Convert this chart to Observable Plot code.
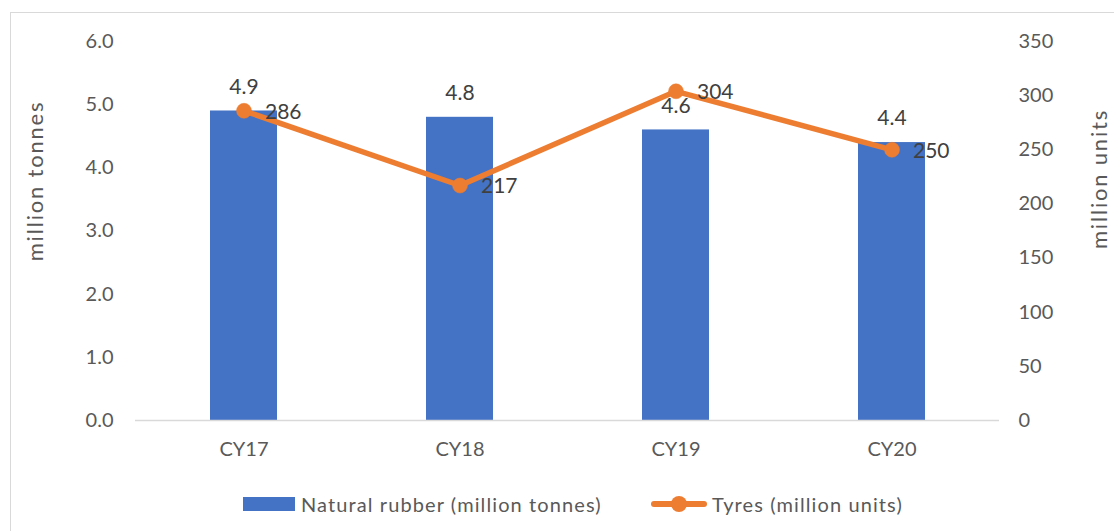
<!DOCTYPE html>
<html>
<head>
<meta charset="utf-8">
<script src="https://cdn.jsdelivr.net/npm/d3@7"></script>
<script src="https://cdn.jsdelivr.net/npm/@observablehq/plot@0.6"></script>
<style>
  body { margin: 0; background: #fff; font-family: Lato, "Open Sans", sans-serif; }
  #wrap { position: relative; width: 1114px; height: 531px; overflow: hidden; background: #fff; }
  #frame { position: absolute; left: 10px; top: 12px; width: 1130px; height: 560px; border: 1px solid #d9d9d9; box-sizing: border-box; }
  #chart { position: absolute; left: 0; top: 0; }
  .lg { position: absolute; font-size: 20px; letter-spacing: 1.1px; color: #595959; line-height: 24px; white-space: nowrap; }
  .sw-bar { position: absolute; left: 243px; top: 497px; width: 52px; height: 14px; background: #4472C4; }
  .sw-line { position: absolute; left: 651px; top: 501px; width: 56px; height: 6px; background: #ED7D31; border-radius: 3px; }
  .sw-dot { position: absolute; left: 671px; top: 496px; width: 16px; height: 16px; border-radius: 50%; background: #ED7D31; }
</style>
</head>
<body>
<div id="wrap">
  <div id="frame"></div>
  <div id="chart"></div>
  <div class="sw-bar"></div>
  <div class="lg" style="left:301px; top:492px;">Natural rubber (million tonnes)</div>
  <div class="sw-line"></div>
  <div class="sw-dot"></div>
  <div class="lg" style="left:712px; top:492px;">Tyres (million units)</div>
</div>
<script>
const categories = ["CY17", "CY18", "CY19", "CY20"];
const rubber = [4.9, 4.8, 4.6, 4.4];
const tyres = [286, 217, 304, 250];
const leftTicks = [0, 1, 2, 3, 4, 5, 6];
const rightTicks = [0, 50, 100, 150, 200, 250, 300, 350];
const leftTitle = "million tonnes";
const rightTitle = "million units";

const leftMax = 6, rightMax = 350;
const toLeft = v => v * leftMax / rightMax;
const data = categories.map((c, i) => ({cat: c, rubber: rubber[i], tyres: tyres[i]}));

const blue = "#4472C4", orange = "#ED7D31", tickColor = "#595959", labelColor = "#404040";

const chart = Plot.plot({
  width: 1114,
  height: 480,
  marginLeft: 135,
  marginRight: 115,
  marginTop: 41,
  marginBottom: 60,
  style: {fontFamily: "Lato, 'Open Sans', sans-serif", fontSize: "20px", color: tickColor, background: "transparent"},
  x: {domain: categories, paddingInner: 0.69, paddingOuter: 0.345, label: null},
  y: {domain: [0, leftMax], label: null},
  marks: [
    Plot.barY(data, {x: "cat", y: "rubber", fill: blue}),
    Plot.ruleY([0], {stroke: "#d9d9d9", strokeWidth: 1.3}),
    Plot.axisX({tickSize: 0, tickPadding: 21, fill: tickColor, fontSize: 20}),
    Plot.axisY(leftTicks, {anchor: "left", tickSize: 0, tickPadding: 22, tickFormat: d => d.toFixed(1), fill: tickColor, fontSize: 20, label: null}),
    Plot.axisY(rightTicks.map(toLeft), {anchor: "right", tickSize: 0, tickPadding: 19, tickFormat: d => String(Math.round(d * rightMax / leftMax)), fill: tickColor, fontSize: 20, label: null}),
    Plot.text([leftTitle], {frameAnchor: "left", textAnchor: "middle", dx: -100, dy: -50, rotate: -90, fontSize: 22, fill: tickColor}),
    Plot.text([rightTitle], {frameAnchor: "right", textAnchor: "middle", dx: 100, dy: -52, rotate: -90, fontSize: 22, fill: tickColor}),
    Plot.line(data, {x: "cat", y: d => toLeft(d.tyres), stroke: orange, strokeWidth: 5.5, strokeLinecap: "round", strokeLinejoin: "round"}),
    Plot.dot(data, {x: "cat", y: d => toLeft(d.tyres), r: 7.5, fill: orange, stroke: orange, strokeWidth: 0.5}),
    Plot.text(data, {x: "cat", y: "rubber", text: d => d.rubber.toFixed(1), dy: -24, fill: labelColor, fontSize: 21}),
    Plot.text(data, {x: "cat", y: d => toLeft(d.tyres), text: d => String(d.tyres), dx: 21, dy: 1, textAnchor: "start", fill: labelColor, fontSize: 21})
  ]
});
d3.select(chart).selectAll("text").filter(function() {
  const t = this.textContent;
  return t === leftTitle || t === rightTitle;
}).style("letter-spacing", "1.8px");
document.getElementById("chart").appendChild(chart);
</script>
</body>
</html>
